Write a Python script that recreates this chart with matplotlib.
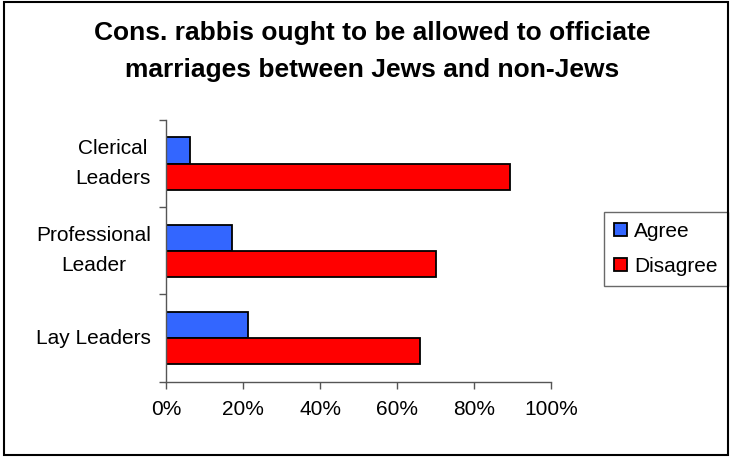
import numpy as np
import matplotlib
matplotlib.use('Agg')
import matplotlib.pyplot as plt
import matplotlib.ticker as mtk
from matplotlib.patches import Rectangle

plt.rcParams['font.family'] = ['Liberation Sans', 'DejaVu Sans']

# survey responses, bottom to top
groups = ['Lay Leaders', 'Professional\nLeader', 'Clerical\nLeaders']
agree = [21.3, 17.1, 6.2]
disagree = [66.0, 70.0, 89.4]
xticks = [0, 20, 40, 60, 80, 100]

W, H = 731, 457
fig = plt.figure(figsize=(W / 100, H / 100), dpi=100)
ax = fig.add_axes([166 / W, 1 - 381.7 / H, 385 / W, 261.7 / H])

y = np.arange(len(groups))
h = 0.3
ax.barh(y + h / 2, agree, height=h, color='#3366FF', edgecolor='black',
        lw=1.3, label='Agree')
ax.barh(y - h / 2, disagree, height=h, color='#FF0000', edgecolor='black',
        lw=1.3, label='Disagree')

ax.set_xlim(0, 100)
ax.set_ylim(-0.5, len(groups) - 0.5)
ax.set_xticks(xticks)
ax.xaxis.set_major_formatter(mtk.FuncFormatter(lambda v, p: '%d%%' % v))
ax.set_yticks(y)
ax.set_yticklabels(groups, multialignment='center', linespacing=1.72,
                   va='center')
ax.yaxis.set_minor_locator(mtk.FixedLocator(np.arange(-0.5, len(groups), 1)))
ax.tick_params(axis='y', which='major', length=0, pad=11, labelsize=15)
ax.tick_params(axis='y', which='minor', length=5, width=1, color='#555555')
ax.tick_params(axis='x', length=5, width=1, color='#555555', pad=8,
               labelsize=15)
for s in ['top', 'right']:
    ax.spines[s].set_visible(False)
for s in ['left', 'bottom']:
    ax.spines[s].set_color('#555555')
    ax.spines[s].set_linewidth(1)

fig.text(372 / W, 1 - 51.5 / H,
         'Cons. rabbis ought to be allowed to officiate\n'
         'marriages between Jews and non-Jews',
         ha='center', va='center', fontsize=19, fontweight='bold',
         linespacing=1.68)

leg = ax.legend(loc='center left', bbox_to_anchor=(604 / W, 1 - 249 / H),
                bbox_transform=fig.transFigure, frameon=True, fancybox=False,
                edgecolor='#444444', fontsize=15, handlelength=0.6,
                handleheight=0.6, handletextpad=0.35, labelspacing=0.75,
                borderpad=0.5, borderaxespad=0)
leg.get_frame().set_linewidth(1)

# outer chart border
fig.patches.append(Rectangle((4 / W, 1 - 455 / H), 724 / W, 453 / H,
                             transform=fig.transFigure, fill=False,
                             edgecolor='black', lw=1.5))

fig.savefig('out.png', dpi=100)
